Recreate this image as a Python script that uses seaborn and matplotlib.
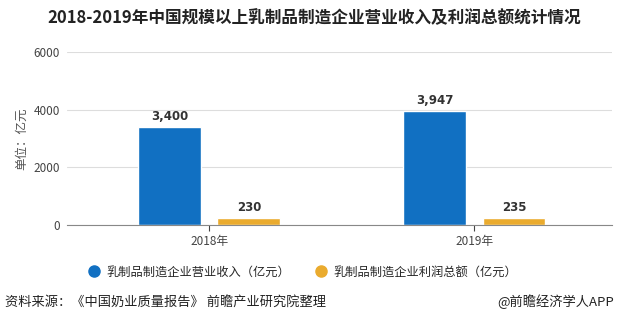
import matplotlib
matplotlib.use("Agg")
import matplotlib.pyplot as plt
import seaborn as sns
import pandas as pd
from matplotlib.lines import Line2D

years = ["2018年", "2019年"]
series_names = ["乳制品制造企业营业收入（亿元）", "乳制品制造企业利润总额（亿元）"]
revenue = [3400, 3947]
profit = [230, 235]
yticks = [0, 2000, 4000, 6000]

df = pd.DataFrame({
    "year": years * 2,
    "series": [series_names[0]] * 2 + [series_names[1]] * 2,
    "value": revenue + profit,
})

sns.set_theme(style="white")
plt.rcParams["font.family"] = ["Noto Sans CJK SC", "DejaVu Sans"]

colors = ["#1170c2", "#eaab2e"]

fig = plt.figure(figsize=(6.19, 3.25), dpi=100)
ax = fig.add_axes([67/619, 1-225/325, (612-67)/619, (225-52)/325])

sns.barplot(data=df, x="year", y="value", hue="series", palette=colors,
            width=0.6, gap=0.21, saturation=1, ax=ax, legend=False)

for cont in ax.containers:
    ax.bar_label(cont, labels=[f"{v:,.0f}" for v in cont.datavalues],
                 padding=3, fontsize=8.5, fontweight="bold", color="#333333",
                 family="DejaVu Sans")

ax.set_ylim(0, 6000)
ax.set_yticks(yticks)
ax.set_yticklabels([str(t) for t in yticks], fontsize=8.5, color="#444444")
ax.set_xlim(-0.536, 1.52)
ax.tick_params(axis="x", labelsize=8.5, colors="#444444", length=4, width=0.8,
               direction="out", bottom=True, pad=3)
ax.tick_params(axis="y", length=0, pad=5)
ax.set_xlabel("")
ax.set_ylabel("单位：亿元", fontsize=9, color="#555555", labelpad=4)
for s in ["top", "right", "left"]:
    ax.spines[s].set_visible(False)
ax.spines["bottom"].set_color("#888888")
ax.spines["bottom"].set_linewidth(0.8)
ax.yaxis.grid(True, color="#dddddd", linewidth=0.8)
ax.set_axisbelow(True)

fig.text(0.508, 1-18/325, "2018-2019年中国规模以上乳制品制造企业营业收入及利润总额统计情况",
         ha="center", va="center", fontsize=12, fontweight="bold", color="#222222")

handles = [Line2D([], [], marker="o", linestyle="", markersize=8,
                  markerfacecolor=c, markeredgecolor=c) for c in colors]
fig.legend(handles, series_names, loc="center", bbox_to_anchor=(302/619, 1-272/325),
           ncol=2, frameon=False, fontsize=8.8, handletextpad=0.45,
           handlelength=1.2, columnspacing=1.9)

fig.text(5/619, 1-302/325, "资料来源：《中国奶业质量报告》 前瞻产业研究院整理",
         ha="left", va="center", fontsize=9.5, color="#222222")
fig.text(614/619, 1-302/325, "@前瞻经济学人APP",
         ha="right", va="center", fontsize=9.5, color="#222222")

fig.savefig("out.png", dpi=100)
